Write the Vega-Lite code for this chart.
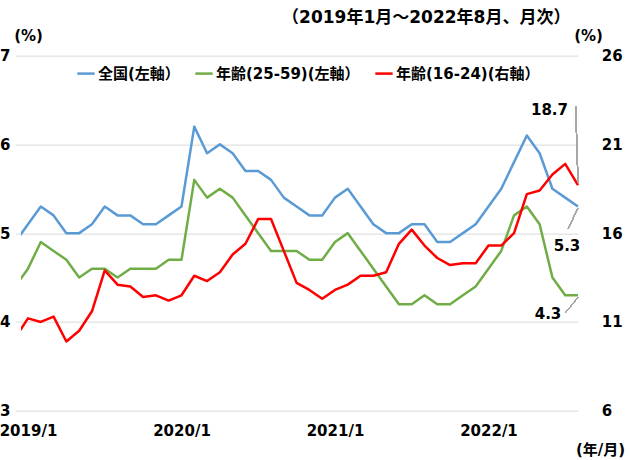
{
  "$schema": "https://vega.github.io/schema/vega-lite/v6.json",
  "width": 564.5,
  "height": 355.1,
  "autosize": {"type": "none"},
  "padding": {"left": 21, "top": 55.6, "right": 44.5, "bottom": 49.3},
  "background": "white",
  "config": {
    "font": "DejaVu Sans, Noto Sans CJK JP",
    "view": {"stroke": null},
    "axis": {
      "domain": false, "ticks": false, "tickSize": 0,
      "labelFont": "DejaVu Sans, Noto Sans CJK JP", "labelFontSize": 15, "labelFontWeight": "bold", "labelColor": "#000000",
      "titleFont": "DejaVu Sans, Noto Sans CJK JP", "titleFontSize": 15, "titleFontWeight": "bold", "titleColor": "#000000",
      "gridColor": "#D9D9D9", "gridWidth": 1
    },
    "legend": {
      "orient": "none", "legendX": 55, "legendY": 8, "direction": "horizontal",
      "labelFont": "DejaVu Sans, Noto Sans CJK JP", "labelFontSize": 15, "labelFontWeight": "bold", "labelColor": "#000000",
      "symbolType": "stroke", "symbolStrokeWidth": 2.5, "symbolSize": 300, "labelOffset": 2, "columnPadding": 10, "labelLimit": 300
    }
  },
  "title": {
    "text": "（2019年1月～2022年8月、月次）",
    "font": "DejaVu Sans, Noto Sans CJK JP", "fontSize": 17, "fontWeight": "bold", "color": "#000000",
    "anchor": "middle", "frame": "group", "dx": 123, "offset": 1
  },
  "data": {"values": [
    {"month":"2018-12","series":"全国(左軸）","rate":4.9},{"month":"2018-12","series":"年齢(25-59)(左軸）","rate":4.4},{"month":"2018-12","series":"年齢(16-24)(右軸）","rate":10.1},
    {"month":"2019-01","series":"全国(左軸）","rate":5.1},{"month":"2019-01","series":"年齢(25-59)(左軸）","rate":4.6},{"month":"2019-01","series":"年齢(16-24)(右軸）","rate":11.2},
    {"month":"2019-02","series":"全国(左軸）","rate":5.3},{"month":"2019-02","series":"年齢(25-59)(左軸）","rate":4.9},{"month":"2019-02","series":"年齢(16-24)(右軸）","rate":11.0},
    {"month":"2019-03","series":"全国(左軸）","rate":5.2},{"month":"2019-03","series":"年齢(25-59)(左軸）","rate":4.8},{"month":"2019-03","series":"年齢(16-24)(右軸）","rate":11.3},
    {"month":"2019-04","series":"全国(左軸）","rate":5.0},{"month":"2019-04","series":"年齢(25-59)(左軸）","rate":4.7},{"month":"2019-04","series":"年齢(16-24)(右軸）","rate":9.9},
    {"month":"2019-05","series":"全国(左軸）","rate":5.0},{"month":"2019-05","series":"年齢(25-59)(左軸）","rate":4.5},{"month":"2019-05","series":"年齢(16-24)(右軸）","rate":10.5},
    {"month":"2019-06","series":"全国(左軸）","rate":5.1},{"month":"2019-06","series":"年齢(25-59)(左軸）","rate":4.6},{"month":"2019-06","series":"年齢(16-24)(右軸）","rate":11.6},
    {"month":"2019-07","series":"全国(左軸）","rate":5.3},{"month":"2019-07","series":"年齢(25-59)(左軸）","rate":4.6},{"month":"2019-07","series":"年齢(16-24)(右軸）","rate":13.9},
    {"month":"2019-08","series":"全国(左軸）","rate":5.2},{"month":"2019-08","series":"年齢(25-59)(左軸）","rate":4.5},{"month":"2019-08","series":"年齢(16-24)(右軸）","rate":13.1},
    {"month":"2019-09","series":"全国(左軸）","rate":5.2},{"month":"2019-09","series":"年齢(25-59)(左軸）","rate":4.6},{"month":"2019-09","series":"年齢(16-24)(右軸）","rate":13.0},
    {"month":"2019-10","series":"全国(左軸）","rate":5.1},{"month":"2019-10","series":"年齢(25-59)(左軸）","rate":4.6},{"month":"2019-10","series":"年齢(16-24)(右軸）","rate":12.4},
    {"month":"2019-11","series":"全国(左軸）","rate":5.1},{"month":"2019-11","series":"年齢(25-59)(左軸）","rate":4.6},{"month":"2019-11","series":"年齢(16-24)(右軸）","rate":12.5},
    {"month":"2019-12","series":"全国(左軸）","rate":5.2},{"month":"2019-12","series":"年齢(25-59)(左軸）","rate":4.7},{"month":"2019-12","series":"年齢(16-24)(右軸）","rate":12.2},
    {"month":"2020-01","series":"全国(左軸）","rate":5.3},{"month":"2020-01","series":"年齢(25-59)(左軸）","rate":4.7},{"month":"2020-01","series":"年齢(16-24)(右軸）","rate":12.5},
    {"month":"2020-02","series":"全国(左軸）","rate":6.2},{"month":"2020-02","series":"年齢(25-59)(左軸）","rate":5.6},{"month":"2020-02","series":"年齢(16-24)(右軸）","rate":13.6},
    {"month":"2020-03","series":"全国(左軸）","rate":5.9},{"month":"2020-03","series":"年齢(25-59)(左軸）","rate":5.4},{"month":"2020-03","series":"年齢(16-24)(右軸）","rate":13.3},
    {"month":"2020-04","series":"全国(左軸）","rate":6.0},{"month":"2020-04","series":"年齢(25-59)(左軸）","rate":5.5},{"month":"2020-04","series":"年齢(16-24)(右軸）","rate":13.8},
    {"month":"2020-05","series":"全国(左軸）","rate":5.9},{"month":"2020-05","series":"年齢(25-59)(左軸）","rate":5.4},{"month":"2020-05","series":"年齢(16-24)(右軸）","rate":14.8},
    {"month":"2020-06","series":"全国(左軸）","rate":5.7},{"month":"2020-06","series":"年齢(25-59)(左軸）","rate":5.2},{"month":"2020-06","series":"年齢(16-24)(右軸）","rate":15.4},
    {"month":"2020-07","series":"全国(左軸）","rate":5.7},{"month":"2020-07","series":"年齢(25-59)(左軸）","rate":5.0},{"month":"2020-07","series":"年齢(16-24)(右軸）","rate":16.8},
    {"month":"2020-08","series":"全国(左軸）","rate":5.6},{"month":"2020-08","series":"年齢(25-59)(左軸）","rate":4.8},{"month":"2020-08","series":"年齢(16-24)(右軸）","rate":16.8},
    {"month":"2020-09","series":"全国(左軸）","rate":5.4},{"month":"2020-09","series":"年齢(25-59)(左軸）","rate":4.8},{"month":"2020-09","series":"年齢(16-24)(右軸）","rate":15.0},
    {"month":"2020-10","series":"全国(左軸）","rate":5.3},{"month":"2020-10","series":"年齢(25-59)(左軸）","rate":4.8},{"month":"2020-10","series":"年齢(16-24)(右軸）","rate":13.2},
    {"month":"2020-11","series":"全国(左軸）","rate":5.2},{"month":"2020-11","series":"年齢(25-59)(左軸）","rate":4.7},{"month":"2020-11","series":"年齢(16-24)(右軸）","rate":12.8},
    {"month":"2020-12","series":"全国(左軸）","rate":5.2},{"month":"2020-12","series":"年齢(25-59)(左軸）","rate":4.7},{"month":"2020-12","series":"年齢(16-24)(右軸）","rate":12.3},
    {"month":"2021-01","series":"全国(左軸）","rate":5.4},{"month":"2021-01","series":"年齢(25-59)(左軸）","rate":4.9},{"month":"2021-01","series":"年齢(16-24)(右軸）","rate":12.8},
    {"month":"2021-02","series":"全国(左軸）","rate":5.5},{"month":"2021-02","series":"年齢(25-59)(左軸）","rate":5.0},{"month":"2021-02","series":"年齢(16-24)(右軸）","rate":13.1},
    {"month":"2021-03","series":"全国(左軸）","rate":5.3},{"month":"2021-03","series":"年齢(25-59)(左軸）","rate":4.8},{"month":"2021-03","series":"年齢(16-24)(右軸）","rate":13.6},
    {"month":"2021-04","series":"全国(左軸）","rate":5.1},{"month":"2021-04","series":"年齢(25-59)(左軸）","rate":4.6},{"month":"2021-04","series":"年齢(16-24)(右軸）","rate":13.6},
    {"month":"2021-05","series":"全国(左軸）","rate":5.0},{"month":"2021-05","series":"年齢(25-59)(左軸）","rate":4.4},{"month":"2021-05","series":"年齢(16-24)(右軸）","rate":13.8},
    {"month":"2021-06","series":"全国(左軸）","rate":5.0},{"month":"2021-06","series":"年齢(25-59)(左軸）","rate":4.2},{"month":"2021-06","series":"年齢(16-24)(右軸）","rate":15.4},
    {"month":"2021-07","series":"全国(左軸）","rate":5.1},{"month":"2021-07","series":"年齢(25-59)(左軸）","rate":4.2},{"month":"2021-07","series":"年齢(16-24)(右軸）","rate":16.2},
    {"month":"2021-08","series":"全国(左軸）","rate":5.1},{"month":"2021-08","series":"年齢(25-59)(左軸）","rate":4.3},{"month":"2021-08","series":"年齢(16-24)(右軸）","rate":15.3},
    {"month":"2021-09","series":"全国(左軸）","rate":4.9},{"month":"2021-09","series":"年齢(25-59)(左軸）","rate":4.2},{"month":"2021-09","series":"年齢(16-24)(右軸）","rate":14.6},
    {"month":"2021-10","series":"全国(左軸）","rate":4.9},{"month":"2021-10","series":"年齢(25-59)(左軸）","rate":4.2},{"month":"2021-10","series":"年齢(16-24)(右軸）","rate":14.2},
    {"month":"2021-11","series":"全国(左軸）","rate":5.0},{"month":"2021-11","series":"年齢(25-59)(左軸）","rate":4.3},{"month":"2021-11","series":"年齢(16-24)(右軸）","rate":14.3},
    {"month":"2021-12","series":"全国(左軸）","rate":5.1},{"month":"2021-12","series":"年齢(25-59)(左軸）","rate":4.4},{"month":"2021-12","series":"年齢(16-24)(右軸）","rate":14.3},
    {"month":"2022-01","series":"全国(左軸）","rate":5.3},{"month":"2022-01","series":"年齢(25-59)(左軸）","rate":4.6},{"month":"2022-01","series":"年齢(16-24)(右軸）","rate":15.3},
    {"month":"2022-02","series":"全国(左軸）","rate":5.5},{"month":"2022-02","series":"年齢(25-59)(左軸）","rate":4.8},{"month":"2022-02","series":"年齢(16-24)(右軸）","rate":15.3},
    {"month":"2022-03","series":"全国(左軸）","rate":5.8},{"month":"2022-03","series":"年齢(25-59)(左軸）","rate":5.2},{"month":"2022-03","series":"年齢(16-24)(右軸）","rate":16.0},
    {"month":"2022-04","series":"全国(左軸）","rate":6.1},{"month":"2022-04","series":"年齢(25-59)(左軸）","rate":5.3},{"month":"2022-04","series":"年齢(16-24)(右軸）","rate":18.2},
    {"month":"2022-05","series":"全国(左軸）","rate":5.9},{"month":"2022-05","series":"年齢(25-59)(左軸）","rate":5.1},{"month":"2022-05","series":"年齢(16-24)(右軸）","rate":18.4},
    {"month":"2022-06","series":"全国(左軸）","rate":5.5},{"month":"2022-06","series":"年齢(25-59)(左軸）","rate":4.5},{"month":"2022-06","series":"年齢(16-24)(右軸）","rate":19.3},
    {"month":"2022-07","series":"全国(左軸）","rate":5.4},{"month":"2022-07","series":"年齢(25-59)(左軸）","rate":4.3},{"month":"2022-07","series":"年齢(16-24)(右軸）","rate":19.9},
    {"month":"2022-08","series":"全国(左軸）","rate":5.3},{"month":"2022-08","series":"年齢(25-59)(左軸）","rate":4.3},{"month":"2022-08","series":"年齢(16-24)(右軸）","rate":18.7}
  ]},
  "encoding": {
    "x": {
      "field": "month", "type": "ordinal",
      "scale": {"type": "point", "range": [-5.79, 557.0], "padding": 0},
      "axis": {
        "values": ["2019-01", "2020-01", "2021-01", "2022-01"],
        "labelExpr": "slice(datum.value, 0, 4) + '/' + toNumber(slice(datum.value, 5, 7))",
        "labelAngle": 0, "labelPadding": 13, "labelFlush": false, "labelBound": false, "labelOverlap": false,
        "grid": false,
        "title": "(年/月)", "titleX": 579, "titleY": 38.3, "titleAlign": "center", "titleBaseline": "middle"
      }
    }
  },
  "layer": [
    {
      "layer": [
        {
          "transform": [{"filter": "datum.series !== '年齢(16-24)(右軸）'"}],
          "mark": {"type": "line", "clip": true, "strokeWidth": 2.5, "strokeJoin": "round"},
          "encoding": {
            "y": {
              "field": "rate", "type": "quantitative", "title": "(%)",
              "scale": {"domain": [3, 7], "nice": false, "zero": false},
              "axis": {
                "values": [3, 4, 5, 6, 7], "format": "d", "grid": true, "labelPadding": 11,
                "titleAngle": 0, "titleX": 7, "titleY": -20.6, "titleAlign": "center", "titleBaseline": "middle"
              }
            },
            "color": {
              "field": "series", "type": "nominal", "title": null,
              "scale": {
                "domain": ["全国(左軸）", "年齢(25-59)(左軸）", "年齢(16-24)(右軸）"],
                "range": ["#5B9BD5", "#70AD47", "#FF0000"]
              }
            }
          }
        },
        {
          "transform": [{"filter": "datum.month === '2022-08' && datum.series === '全国(左軸）'"}],
          "mark": {"type": "text", "dx": -11, "dy": 39.6, "fontSize": 15, "fontWeight": "bold", "color": "#000000"},
          "encoding": {
            "y": {"field": "rate", "type": "quantitative", "title": "(%)"},
            "text": {"field": "rate", "type": "quantitative", "format": ".1f"}
          }
        },
        {
          "transform": [{"filter": "datum.month === '2022-08' && datum.series === '年齢(25-59)(左軸）'"}],
          "mark": {"type": "text", "dx": -30, "dy": 18.6, "fontSize": 15, "fontWeight": "bold", "color": "#000000"},
          "encoding": {
            "y": {"field": "rate", "type": "quantitative", "title": "(%)"},
            "text": {"field": "rate", "type": "quantitative", "format": ".1f"}
          }
        },
        {
          "mark": {"type": "rule", "color": "#A6A6A6", "strokeWidth": 0.8, "xOffset": 3},
          "encoding": {
            "x": {"datum": "2022-07", "type": "ordinal"},
            "x2": {"datum": "2022-08"},
            "y": {"datum": 5.054, "type": "quantitative", "title": "(%)"},
            "y2": {"datum": 5.28}
          }
        },
        {
          "mark": {"type": "rule", "color": "#A6A6A6", "strokeWidth": 0.8, "xOffset": 0.8},
          "encoding": {
            "x": {"datum": "2022-07", "type": "ordinal"},
            "x2": {"datum": "2022-08"},
            "y": {"datum": 4.111, "type": "quantitative", "title": "(%)"},
            "y2": {"datum": 4.277}
          }
        }
      ]
    },
    {
      "layer": [
        {
          "transform": [{"filter": "datum.series === '年齢(16-24)(右軸）'"}],
          "mark": {"type": "line", "clip": true, "strokeWidth": 2.5, "strokeJoin": "round"},
          "encoding": {
            "y": {
              "field": "rate", "type": "quantitative", "title": "(%)",
              "scale": {"domain": [6, 26], "nice": false, "zero": false},
              "axis": {
                "orient": "right", "values": [6, 11, 16, 21, 26], "format": "d", "grid": false, "labelPadding": 15.7,
                "titleAngle": 0, "titleX": 2.5, "titleY": -20.6, "titleAlign": "center", "titleBaseline": "middle"
              }
            },
            "color": {"datum": "年齢(16-24)(右軸）"}
          }
        },
        {
          "transform": [{"filter": "datum.month === '2022-08' && datum.series === '年齢(16-24)(右軸）'"}],
          "mark": {"type": "text", "dx": -28.5, "dy": -75, "fontSize": 15, "fontWeight": "bold", "color": "#000000"},
          "encoding": {
            "y": {"field": "rate", "type": "quantitative", "title": "(%)"},
            "text": {"field": "rate", "type": "quantitative", "format": ".1f"}
          }
        },
        {
          "mark": {"type": "rule", "color": "#A6A6A6", "strokeWidth": 0.8, "xOffset": -2.3},
          "encoding": {
            "x": {"datum": "2022-08", "type": "ordinal"},
            "x2": {"datum": "2022-08"},
            "y": {"datum": 23.13, "type": "quantitative", "title": "(%)"},
            "y2": {"datum": 18.85}
          }
        }
      ]
    }
  ],
  "resolve": {"scale": {"y": "independent"}}
}
